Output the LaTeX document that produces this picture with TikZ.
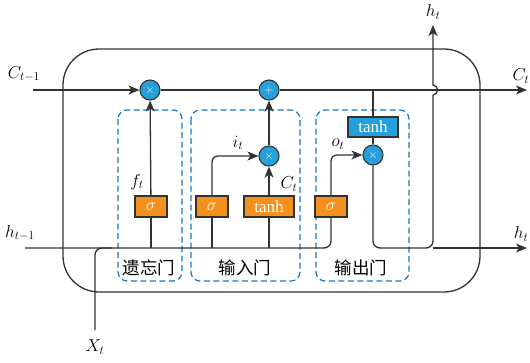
\documentclass[tikz,border=0pt]{standalone}
\usepackage{fontspec}
\setmainfont{Liberation Serif}
\newfontfamily\cjk{Noto Sans CJK SC}
\usetikzlibrary{arrows.meta}
\definecolor{opblue}{RGB}{38,160,218}
\definecolor{gorange}{RGB}{244,145,30}
\definecolor{dashblue}{RGB}{20,120,200}
\definecolor{edge}{RGB}{50,50,50}
\tikzset{
  op/.style={circle,draw=edge,line width=1.1pt,fill=opblue,minimum size=20pt,inner sep=0pt,text=white,font=\fontsize{13}{13}\selectfont},
  gatebox/.style={draw=edge,line width=1.1pt,fill=gorange,text=white,minimum height=21pt,inner sep=0pt,font=\fontsize{17}{17}\selectfont},
  outbox/.style={gatebox,fill=opblue},
  arr/.style={-{Stealth[length=11pt,width=9pt,inset=3pt]}},
  wire/.style={draw=edge,line width=1.3pt},
  gategroup/.style={draw=dashblue,line width=1.2pt,dash pattern=on 6pt off 3.5pt,rounded corners=9pt},
  lbl/.style={font=\fontsize{18}{18}\selectfont,inner sep=0pt},
  cn/.style={font=\cjk\fontsize{17.5}{17.5}\selectfont,inner sep=0pt}
}
\begin{document}
\begin{tikzpicture}[x=1pt,y=-1pt]
\useasboundingbox (0,0) rectangle (530,362);
% outer cell
\draw[wire,rounded corners=36pt] (63,49) rectangle (480,292);
% gate groups
\draw[gategroup] (118,110) rectangle (182,281);
\draw[gategroup] (191,110) rectangle (300,281);
\draw[gategroup] (316,110) rectangle (409,281);
% nodes
\node[op] (mf) at (150,90) {$\times$};
\node[op] (pl) at (269,90) {$+$};
\node[op] (mi) at (269,156) {$\times$};
\node[op] (mo) at (373,155) {$\times$};
\node[gatebox,minimum width=32pt] (sf) at (151,206.5) {$\sigma$};
\node[gatebox,minimum width=32pt] (si) at (212,206.5) {$\sigma$};
\node[gatebox,minimum width=50pt] (ti) at (269,206.5) {tanh};
\node[gatebox,minimum width=32pt] (so) at (331,206.5) {$\sigma$};
\node[outbox,minimum width=50pt,minimum height=20pt] (to) at (373,127) {tanh};
% coordinates
\coordinate (cin) at (33,90);
\coordinate (cout) at (527,90);
\coordinate (hin) at (25,248);
\coordinate (hout) at (527,248);
\coordinate (xin) at (95,330);
\coordinate (xj) at (95,248);
\coordinate (xe) at (112,248);
\coordinate (hc) at (373,248);
\coordinate (hj) at (433,248);
\coordinate (bl) at (433,95);
\coordinate (bu) at (433,85);
\coordinate (htop) at (433,25);
% cell state line
\draw[wire,arr] (cin) -- (mf);
\draw[wire] (mf) -- (pl);
\draw[wire,arr] (pl) -- (cout);
% hidden input line
\draw[wire,rounded corners=7pt] (hin) -- (so.south |- hin) -- (so.south);
\draw[wire,rounded corners=7pt] (xin) -- (xj) -- (xe);
\draw[wire] (sf.south) -- (sf.south |- hin);
\draw[wire] (si.south) -- (si.south |- hin);
\draw[wire] (ti.south) -- (ti.south |- hin);
% gates
\draw[wire,arr] (sf) -- (mf);
\draw[wire,arr,rounded corners=6pt] (si.north) |- (mi.west);
\draw[wire,arr] (ti) -- (mi);
\draw[wire,arr] (mi) -- (pl);
\draw[wire,arr,rounded corners=6pt] (so.north) |- (mo.west);
\draw[wire] (to.north) -- (to.north |- cin);
\draw[wire] (to) -- (mo);
% output
\draw[wire,rounded corners=7pt] (mo.south) -- (hc) -- (hj) -- (bl);
\draw[wire,arr] (bl) .. controls (439,95) and (439,85) .. (bu) -- (htop);
\draw[wire,arr] (hj) -- (hout);
% labels
\node[lbl] (lc0) at (24,74) {$C_{t-1}$};
\node[lbl] (lc1) at (521,76) {$C_t$};
\node[lbl] (lh1) at (433,12) {$h_t$};
\node[lbl] (lh0) at (20,233) {$h_{t-1}$};
\node[lbl] (lh2) at (521,234) {$h_t$};
\node[lbl] (lx) at (95,347) {$X_t$};
\node[lbl] (lf) at (137,182) {$f_t$};
\node[lbl] (li) at (238,143) {$i_t$};
\node[lbl] (lct) at (289,184) {$C_t$};
\node[lbl] (lo) at (338,144) {$o_t$};
\node[cn] (g1) at (149,268) {遗忘门};
\node[cn] (g2) at (245,268) {输入门};
\node[cn] (g3) at (361,268) {输出门};
\end{tikzpicture}
\end{document}
